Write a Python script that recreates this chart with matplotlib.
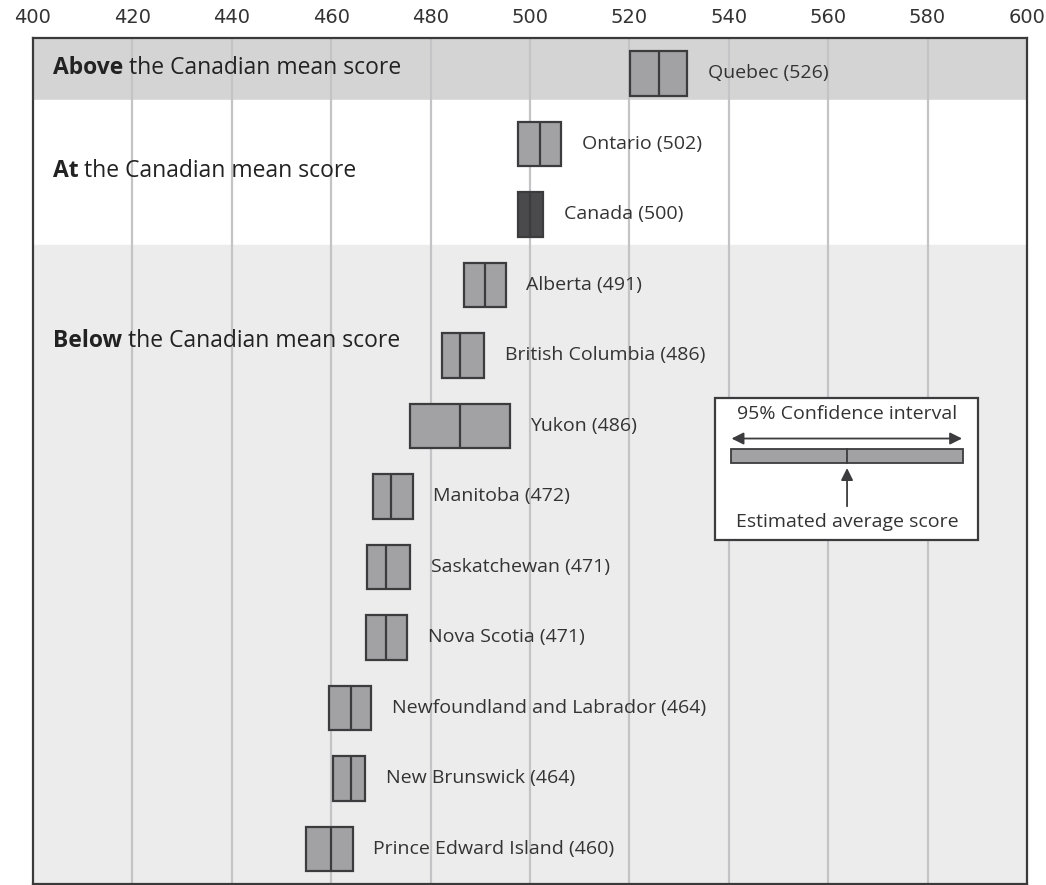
import numpy as np
import matplotlib
matplotlib.use("Agg")
import matplotlib.pyplot as plt

# Data: mean score and 95% confidence interval bounds, top to bottom
provinces = ["Quebec", "Ontario", "Canada", "Alberta", "British Columbia", "Yukon",
             "Manitoba", "Saskatchewan", "Nova Scotia", "Newfoundland and Labrador",
             "New Brunswick", "Prince Edward Island"]
means = [526, 502, 500, 491, 486, 486, 472, 471, 471, 464, 464, 460]
ci_low = [520.2, 497.6, 497.6, 486.7, 482.3, 475.8, 468.4, 467.3, 467.0, 459.6, 460.4, 454.9]
ci_high = [531.6, 506.3, 502.6, 495.1, 490.7, 495.9, 476.4, 475.8, 475.3, 468.0, 466.9, 464.3]
x_ticks = [400, 420, 440, 460, 480, 500, 520, 540, 560, 580, 600]

group_bold = ["Above", "At", "Below"]
group_rest = [" the Canadian mean score"] * 3

FONT = ["Open Sans", "DejaVu Sans"]
EDGE = "#3c3c3e"
BOX = "#a2a2a4"

fig = plt.figure(figsize=(10.46, 8.85), dpi=100)
ax = fig.add_axes([0.0315, 0.001, 0.9503, 0.956])
ax.set_xlim(400, 600)
ax.set_ylim(11.5, -0.5)

# background bands
ax.axhspan(-0.5, 0.38, color="#d4d4d5", zorder=0)
ax.axhspan(0.38, 2.44, color="white", zorder=0)
ax.axhspan(2.44, 11.5, color="#ececec", zorder=0)

for t in x_ticks[1:-1]:
    ax.axvline(t, color="#c4c4c6", lw=1.6, zorder=1)

y = np.arange(len(provinces))
h = 0.63
colors = [("#4a4a4c" if p == "Canada" else BOX) for p in provinces]
ax.barh(y, np.array(ci_high) - np.array(ci_low), left=ci_low, height=h,
        color=colors, edgecolor=EDGE, linewidth=1.6, zorder=3)
ax.vlines(means, y - h / 2, y + h / 2, color=EDGE, lw=1.6, zorder=4)

for yi, p, m, hi in zip(y, provinces, means, ci_high):
    ax.annotate(f"{p} ({m})", (hi, yi), xytext=(15, 0), textcoords="offset points",
                va="center", ha="left", fontsize=14, color="#333333", family=FONT, zorder=5)

# group headings
for gy, b, r in zip([-0.07, 1.38, 3.8], group_bold, group_rest):
    t = ax.text(404, gy, b, fontsize=16.5, fontweight="bold", color="#222222",
                va="center", ha="left", family=FONT, zorder=5)
    ax.annotate(r, xy=(1, 0.5), xycoords=t, va="center", ha="left",
                fontsize=16.5, color="#222222", family=FONT, zorder=5)

# legend box
ax.add_patch(plt.Rectangle((537.2, 4.61), 52.9, 2.01, facecolor="white",
                           edgecolor=EDGE, lw=1.6, zorder=5))
ax.text(563.8, 4.83, "95% Confidence interval", ha="center", va="center",
        fontsize=14, color="#333333", family=FONT, zorder=6)
ax.annotate("", xy=(540.0, 5.18), xytext=(587.5, 5.18),
            arrowprops=dict(arrowstyle="<|-|>", color=EDGE, lw=1.3,
                            mutation_scale=18), zorder=6)
ax.add_patch(plt.Rectangle((540.4, 5.33), 46.7, 0.2, facecolor=BOX,
                           edgecolor=EDGE, lw=1.3, zorder=6))
ax.plot([563.8, 563.8], [5.33, 5.53], color=EDGE, lw=1.3, zorder=7)
ax.annotate("", xy=(563.8, 5.56), xytext=(563.8, 6.18),
            arrowprops=dict(arrowstyle="-|>", color=EDGE, lw=1.3,
                            mutation_scale=18), zorder=6)
ax.text(563.8, 6.37, "Estimated average score", ha="center", va="center",
        fontsize=14, color="#333333", family=FONT, zorder=6)

ax.xaxis.tick_top()
ax.set_xticks(x_ticks)
ax.set_xticklabels([str(v) for v in x_ticks], family=["Liberation Sans Narrow", "DejaVu Sans"],
                   fontsize=14, color="#333333")
ax.tick_params(axis="x", length=0, pad=8)
ax.set_yticks([])
for s in ax.spines.values():
    s.set_color("#3a3a3a")
    s.set_linewidth(1.6)

fig.savefig("out.png", dpi=100)
